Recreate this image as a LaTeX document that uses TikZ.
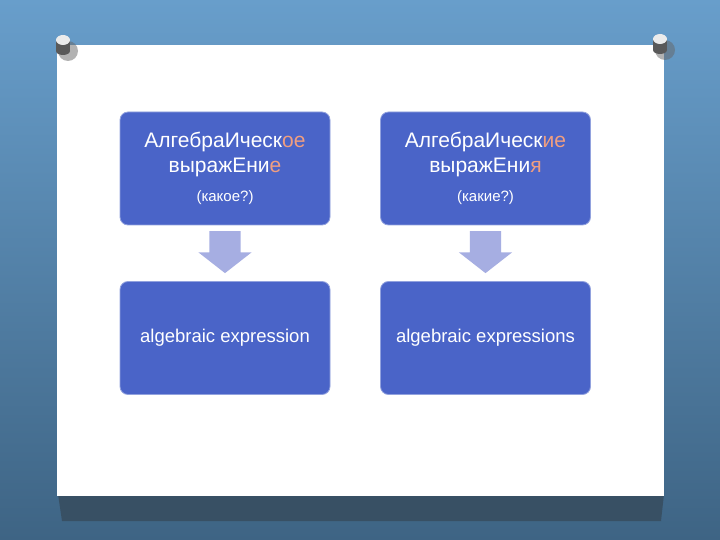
\documentclass[tikz,border=0pt]{standalone}
\usepackage{fontspec}
\setmainfont{Liberation Sans}
\usetikzlibrary{shapes.arrows}

\definecolor{boxblue}{RGB}{74,100,200}
\definecolor{accent}{RGB}{240,158,128}
\definecolor{arrowblue}{RGB}{166,174,226}
\definecolor{wallhi}{RGB}{104,158,203}
\definecolor{walllo}{RGB}{62,100,132}
\definecolor{paperdrop}{RGB}{56,80,100}

\tikzset{
  termbox/.style={draw=boxblue!60!white, line width=.8pt, fill=boxblue, rounded corners=8pt,
    minimum width=210pt, minimum height=113pt, text=white, align=center,
    font=\fontsize{21}{25}\selectfont},
  downarrow/.style={single arrow, fill=arrowblue, draw=none, shape border rotate=270,
    minimum height=42pt, minimum width=53pt, inner sep=0pt, text width=31pt,
    single arrow head extend=11pt, single arrow tip angle=104},
}

\newcommand{\hl}[1]{\textcolor{accent}{#1}}

\begin{document}
\begin{tikzpicture}[x=1pt,y=-1pt]
\useasboundingbox (0,0) rectangle (720,540);

% wall and sheet
\shade[top color=wallhi, bottom color=walllo] (0,0) rectangle (720,540);
\fill[paperdrop] (58,494) -- (664,494) -- (661,521) -- (62,521) -- cycle;
\fill[white] (57,45) rectangle (664,496);

% pins
\foreach \px/\py in {63/42, 660/41} {
  \fill[black!60, opacity=.5] (\px+5,\py+9) circle (10);
  \fill[black!65] (\px-7,\py-2) rectangle (\px+7,\py+9);
  \fill[black!65] (\px,\py+9) ellipse (7 and 4);
  \fill[black!8] (\px,\py-2) ellipse (7 and 5);
}

% boxes
\node[termbox] (ruone) at (225,168.5)
  {АлгебраИческ\hl{ое}\\ выражЕни\hl{е}\\[4pt] {\fontsize{15}{17}\selectfont (какое?)}};
\node[termbox] (rumany) at (485.5,168.5)
  {АлгебраИческ\hl{ие}\\ выражЕни\hl{я}\\[4pt] {\fontsize{15}{17}\selectfont (какие?)}};
\node[termbox, font=\fontsize{18.5}{22}\selectfont] (enone) at (225,338) {algebraic expression};
\node[termbox, font=\fontsize{18.5}{22}\selectfont] (enmany) at (485.5,338) {algebraic expressions};

% arrows
\node[downarrow] (arone) at (225,246) {};
\node[downarrow] (armany) at (485.5,246) {};
\end{tikzpicture}
\end{document}
